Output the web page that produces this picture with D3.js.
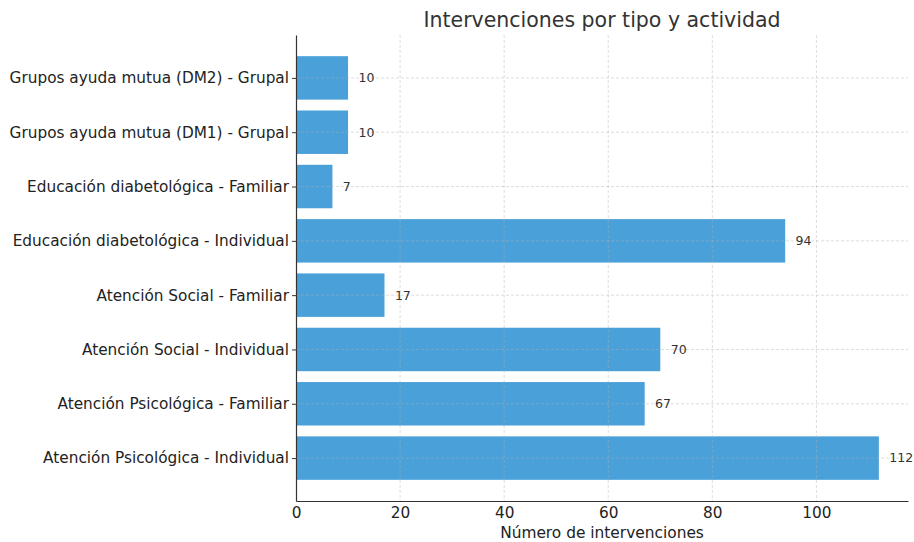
<!DOCTYPE html>
<html>
<head>
<meta charset="utf-8">
<script src="https://cdn.jsdelivr.net/npm/d3@7"></script>
<style>
  html, body { margin: 0; padding: 0; background: #fff; }
  svg { display: block; font-family: "DejaVu Sans", sans-serif; }
</style>
</head>
<body>
<svg id="chart" width="914" height="542"></svg>
<script>
// Categories from bottom to top, with their intervention counts
const categories = [
  "Atención Psicológica - Individual",
  "Atención Psicológica - Familiar",
  "Atención Social - Individual",
  "Atención Social - Familiar",
  "Educación diabetológica - Individual",
  "Educación diabetológica - Familiar",
  "Grupos ayuda mutua (DM1) - Grupal",
  "Grupos ayuda mutua (DM2) - Grupal"
];
const values = [112, 67, 70, 17, 94, 7, 10, 10];
const xTicks = [0, 20, 40, 60, 80, 100];

const title = "Intervenciones por tipo y actividad";
const xLabel = "Número de intervenciones";

const svg = d3.select("#chart");
const plotLeft = 296, plotRight = 908, plotTop = 35, plotBottom = 501;
const barColor = "#4aa0d8";
const barHeight = 0.8;

const xMax = d3.max(values) * 1.05;
const x = d3.scaleLinear().domain([0, xMax]).range([plotLeft, plotRight]);
const pad = 0.4 + (categories.length - 1 + 0.8) * 0.05;
const y = d3.scaleLinear()
  .domain([-pad, categories.length - 1 + pad])
  .range([plotBottom, plotTop]);
const unit = Math.abs(y(1) - y(0));

// Bars
svg.append("g")
  .selectAll("rect")
  .data(values)
  .join("rect")
  .attr("x", x(0))
  .attr("y", (d, i) => y(i) - unit * barHeight / 2)
  .attr("width", d => x(d) - x(0))
  .attr("height", unit * barHeight)
  .attr("fill", barColor);

// Dashed grid over the bars
const grid = svg.append("g")
  .attr("stroke", "#b0b0b0")
  .attr("stroke-opacity", 0.55)
  .attr("stroke-width", 0.8)
  .attr("stroke-dasharray", "3,2");
grid.selectAll("line.v")
  .data(xTicks.filter(t => t > 0))
  .join("line")
  .attr("class", "v")
  .attr("x1", d => x(d)).attr("x2", d => x(d))
  .attr("y1", plotTop).attr("y2", plotBottom);
grid.selectAll("line.h")
  .data(categories)
  .join("line")
  .attr("class", "h")
  .attr("x1", plotLeft).attr("x2", plotRight)
  .attr("y1", (d, i) => y(i)).attr("y2", (d, i) => y(i));

// Value labels
svg.append("g")
  .selectAll("text")
  .data(values)
  .join("text")
  .attr("x", d => x(d + 2))
  .attr("y", (d, i) => y(i))
  .attr("dy", "0.35em")
  .attr("font-size", 12.5)
  .attr("fill", "#333")
  .text(d => d);

// X axis
const xAxis = svg.append("g")
  .attr("transform", `translate(0,${plotBottom})`)
  .call(d3.axisBottom(x).tickValues(xTicks).tickSize(0).tickPadding(6));
xAxis.select(".domain").attr("stroke", "#333").attr("stroke-width", 1.2);
xAxis.selectAll("text").attr("font-size", 15.3).attr("fill", "#222")
  .attr("font-family", "DejaVu Sans, sans-serif");

// Y axis
const yAxis = svg.append("g")
  .attr("transform", `translate(${plotLeft},0)`)
  .call(d3.axisLeft(y).tickValues(d3.range(categories.length))
    .tickFormat(i => categories[i]).tickSize(4).tickPadding(3).tickSizeOuter(0));
yAxis.select(".domain").attr("stroke", "#333").attr("stroke-width", 1.2);
yAxis.selectAll(".tick line").attr("stroke", "#333");
yAxis.selectAll("text").attr("font-size", 15.3).attr("fill", "#222")
  .attr("font-family", "DejaVu Sans, sans-serif");

// Title and axis label
svg.append("text")
  .attr("x", (plotLeft + plotRight) / 2).attr("y", 27)
  .attr("text-anchor", "middle")
  .attr("font-size", 20.5).attr("fill", "#333")
  .text(title);
svg.append("text")
  .attr("x", (plotLeft + plotRight) / 2).attr("y", 538)
  .attr("text-anchor", "middle")
  .attr("font-size", 15.4).attr("fill", "#222")
  .text(xLabel);
</script>
</body>
</html>
